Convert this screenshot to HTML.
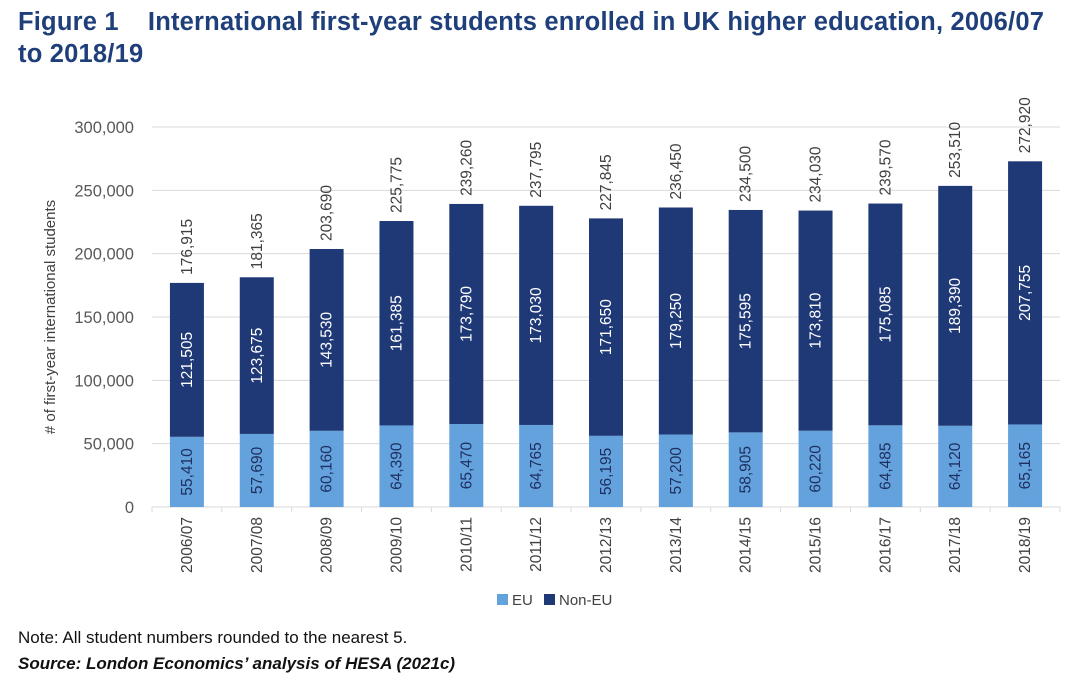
<!DOCTYPE html>
<html><head><meta charset="utf-8"><style>
body{margin:0;background:#fff;width:1080px;height:688px;overflow:hidden;font-family:"Liberation Sans",Arial,sans-serif}
.title{position:absolute;left:18px;top:6px;font-size:25.5px;font-weight:bold;color:#1f3f7a;line-height:32px;white-space:nowrap;letter-spacing:0.2px}
.note{position:absolute;left:18px;top:628px;font-size:17px;color:#111}
.src{position:absolute;left:18px;top:654px;font-size:17px;color:#111;font-weight:bold;font-style:italic}
</style></head><body>
<div class="title">Figure 1&nbsp;&nbsp;&nbsp;&nbsp;International first-year students enrolled in UK higher education, 2006/07<br>to 2018/19</div>
<svg id="chart" width="1080" height="688" style="position:absolute;left:0;top:0"></svg>
<div class="note">Note: All student numbers rounded to the nearest 5.</div>
<div class="src">Source: London Economics’ analysis of HESA (2021c)</div>
<script>
const categories=["2006/07","2007/08","2008/09","2009/10","2010/11","2011/12","2012/13","2013/14","2014/15","2015/16","2016/17","2017/18","2018/19"];
const euValues=[55410,57690,60160,64390,65470,64765,56195,57200,58905,60220,64485,64120,65165];
const nonEuValues=[121505,123675,143530,161385,173790,173030,171650,179250,175595,173810,175085,189390,207755];
const totalValues=[176915,181365,203690,225775,239260,237795,227845,236450,234500,234030,239570,253510,272920];
const yTicks=[0,50000,100000,150000,200000,250000,300000];
const svg=document.getElementById('chart');const NS='http://www.w3.org/2000/svg';
const L=152,R=1060,T=127,B=507,max=300000;
const y=v=>B-(v/max)*(B-T);const step=(R-L)/categories.length;const x=i=>L+step*(i+0.5);const bw=34;
function mk(t,a,txt){const e=document.createElementNS(NS,t);for(const k in a)e.setAttribute(k,a[k]);if(txt!==undefined)e.textContent=txt;svg.appendChild(e);return e;}
const fmt=v=>v.toLocaleString('en-US');
yTicks.forEach(v=>{
 const g=mk('line',{x1:L,x2:R,y1:y(v),y2:y(v),stroke:'#d9d9d9','stroke-width':1});
 
 
 const t=mk('text',{x:L-18,y:y(v)+6,'text-anchor':'end','font-size':16.5,fill:'#595959'},fmt(v));
 
 
});
for(let i=0;i<=categories.length;i++){const tk=mk('line',{x1:L+step*i,x2:L+step*i,y1:B,y2:B+5,stroke:'#d9d9d9'});}
const yt=mk('text',{transform:'translate(55,317) rotate(-90)','text-anchor':'middle','font-size':15,fill:'#404040'},'# of first-year international students');


categories.forEach((c,i)=>{
 const cx=x(i);
 const eu=mk('rect',{x:cx-bw/2,y:y(euValues[i]),width:bw,height:B-y(euValues[i]),fill:'#64a2de'});
 
 
 const top=euValues[i]+nonEuValues[i];
 const ne=mk('rect',{x:cx-bw/2,y:y(top),width:bw,height:y(euValues[i])-y(top),fill:'#1f3876'});
 
 
 const ey=(B+y(euValues[i]))/2;
 const t1=mk('text',{transform:`translate(${cx+5},${ey}) rotate(-90)`,'text-anchor':'middle','font-size':15.5,fill:'#1f3060'},fmt(euValues[i]));
 
 
 const ny=(y(euValues[i])+y(top))/2;
 const t2=mk('text',{transform:`translate(${cx+5},${ny}) rotate(-90)`,'text-anchor':'middle','font-size':15.5,fill:'#fff'},fmt(nonEuValues[i]));
 
 
 const t3=mk('text',{transform:`translate(${cx+5},${y(totalValues[i])-8}) rotate(-90)`,'text-anchor':'start','font-size':15.5,fill:'#404040'},fmt(totalValues[i]));
 
 
 const t4=mk('text',{transform:`translate(${cx+5},${B+10}) rotate(-90)`,'text-anchor':'end','font-size':15.5,fill:'#404040'},c);
 
 
});
const l1=mk('rect',{x:497,y:594,width:11,height:11,fill:'#64a2de'});
const l2=mk('text',{x:512,y:605,'font-size':15,fill:'#404040'},'EU');
const l3=mk('rect',{x:544,y:594,width:11,height:11,fill:'#1f3876'});
const l4=mk('text',{x:559,y:605,'font-size':15,fill:'#404040'},'Non-EU');
</script>
</body></html>
